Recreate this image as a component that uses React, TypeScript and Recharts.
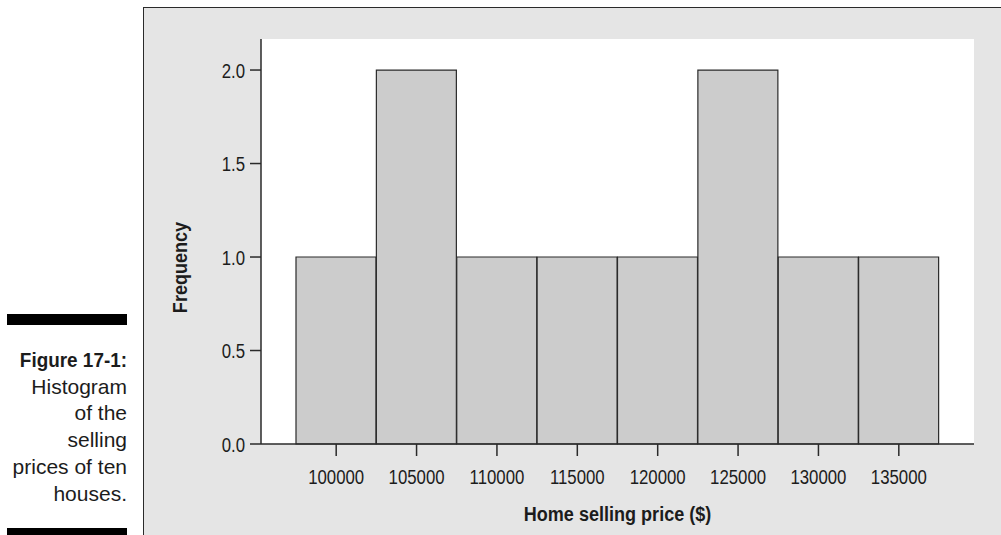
import React from "react";
import { BarChart, Bar, XAxis, YAxis, CartesianGrid, Label } from "recharts";

// bins are 5000 wide, labelled by their midpoint
const binMidpoints = ["100000", "105000", "110000", "115000", "120000", "125000", "130000", "135000"];
const frequency = [1, 2, 1, 1, 1, 2, 1, 1];
const yTicks = [0, 0.5, 1, 1.5, 2];
const captionLines = ["Histogram", "of the", "selling", "prices of ten", "houses."];

const data = binMidpoints.map((bin, i) => ({ bin, count: frequency[i] }));

const FONT = "'Liberation Sans', Arial, sans-serif";
const INK = "#1c1c1c";
const LINE = "#2a2a2a";
// the original uses a condensed face; squeeze Liberation Sans to match
const TICK_SQUEEZE = 0.8;
const TITLE_SQUEEZE = 0.86;

const XTick = ({ x, y, payload }: any) => (
  <g transform={`translate(${x},${y})`}>
    <text transform={`scale(${TICK_SQUEEZE},1)`} textAnchor="middle" dy="0.71em" fontFamily={FONT} fontSize={21} fill={INK}>
      {payload.value}
    </text>
  </g>
);

const YTick = ({ x, y, payload }: any) => (
  <g transform={`translate(${x},${y})`}>
    <text transform={`scale(${TICK_SQUEEZE},1)`} textAnchor="end" dy="0.36em" fontFamily={FONT} fontSize={21} fill={INK}>
      {Number(payload.value).toFixed(1)}
    </text>
  </g>
);

const FrequencyLabel = (props: any) => {
  const vb = props.viewBox || {};
  const x = 179;
  const y = vb.y + vb.height / 2 + 26;
  return (
    <g transform={`translate(${x},${y}) rotate(-90) scale(${TITLE_SQUEEZE},1)`}>
      <text textAnchor="middle" dominantBaseline="central" fontFamily={FONT} fontWeight="bold" fontSize={21} fill={INK}>
        Frequency
      </text>
    </g>
  );
};

const PriceLabel = (props: any) => {
  const vb = props.viewBox || {};
  const x = vb.x + vb.width / 2;
  const y = 521;
  return (
    <g transform={`translate(${x},${y}) scale(${TITLE_SQUEEZE},1)`}>
      <text textAnchor="middle" fontFamily={FONT} fontWeight="bold" fontSize={21} fill={INK}>
        Home selling price ($)
      </text>
    </g>
  );
};

export default function App() {
  return (
    <div
      style={{
        position: "absolute",
        left: 0,
        top: 0,
        width: 1001,
        height: 535,
        overflow: "hidden",
        background: "#fff",
        fontFamily: FONT,
      }}
    >
      <div style={{ position: "absolute", left: 7, top: 314, width: 120, height: 11, background: "#000" }} />
      <div
        style={{
          position: "absolute",
          left: 0,
          top: 347,
          width: 127,
          textAlign: "right",
          fontSize: 21,
          lineHeight: "26.7px",
          color: INK,
          whiteSpace: "nowrap",
        }}
      >
        <div style={{ fontWeight: "bold", transform: "scaleX(0.9)", transformOrigin: "right center" }}>Figure 17-1:</div>
        {captionLines.map((line) => (
          <div key={line}>{line}</div>
        ))}
      </div>
      <div style={{ position: "absolute", left: 7, top: 528, width: 120, height: 7, background: "#000" }} />

      <div
        style={{
          position: "absolute",
          left: 143,
          top: 7,
          right: -2,
          bottom: -2,
          background: "#e5e5e5",
          borderLeft: `1px solid ${LINE}`,
          borderTop: `1px solid ${LINE}`,
        }}
      />

      <div style={{ position: "absolute", left: 0, top: 0 }}>
        <BarChart
          width={1001}
          height={535}
          data={data}
          margin={{ top: 39, right: 27, bottom: 1, left: 181 }}
          barCategoryGap={0}
          barGap={0}
        >
          <CartesianGrid horizontal={false} vertical={false} fill="#fff" />
          <XAxis
            dataKey="bin"
            padding={{ left: 35, right: 35 }}
            height={90}
            tickSize={12}
            tickMargin={13}
            axisLine={{ stroke: LINE, strokeWidth: 1.5 }}
            tickLine={{ stroke: LINE, strokeWidth: 1.5 }}
            tick={<XTick />}
            interval={0}
          >
            <Label content={<PriceLabel />} />
          </XAxis>
          <XAxis
            xAxisId="top"
            dataKey="bin"
            orientation="top"
            height={0}
            tick={false}
            tickLine={false}
            axisLine={{ stroke: LINE, strokeWidth: 1.5 }}
          />
          <YAxis
            domain={[0, 2.166]}
            ticks={yTicks}
            width={80}
            tickSize={11}
            tickMargin={5}
            axisLine={{ stroke: LINE, strokeWidth: 1.5 }}
            tickLine={{ stroke: LINE, strokeWidth: 1.5 }}
            tick={<YTick />}
            label={<FrequencyLabel />}
          />
          <YAxis
            yAxisId="right"
            orientation="right"
            width={0}
            tick={false}
            tickLine={false}
            axisLine={{ stroke: LINE, strokeWidth: 1.5 }}
          />
          <Bar dataKey="count" fill="#cccccc" stroke={LINE} strokeWidth={1.2} isAnimationActive={false} />
        </BarChart>
      </div>
    </div>
  );
}
